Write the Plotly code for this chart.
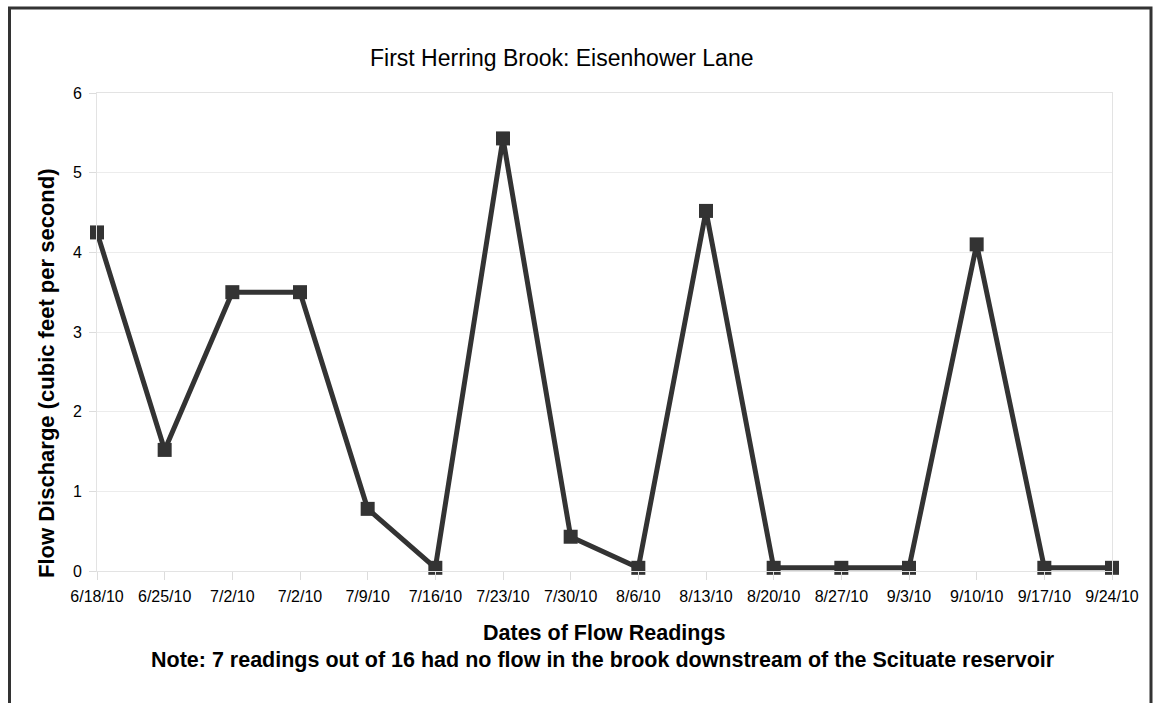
import plotly.graph_objects as go

dates = ["6/18/10", "6/25/10", "7/2/10", "7/2/10", "7/9/10", "7/16/10", "7/23/10",
         "7/30/10", "8/6/10", "8/13/10", "8/20/10", "8/27/10", "9/3/10", "9/10/10",
         "9/17/10", "9/24/10"]
flow_cfs = [4.25, 1.52, 3.50, 3.50, 0.78, 0.04, 5.43, 0.43, 0.04, 4.52, 0.04, 0.04,
            0.04, 4.10, 0.04, 0.04]
y_ticks = [0, 1, 2, 3, 4, 5, 6]

title_text = "First Herring Brook: Eisenhower Lane"
x_title = "Dates of Flow Readings"
note_text = "Note: 7 readings out of 16 had no flow in the brook downstream of the Scituate reservoir"
y_title = "Flow Discharge (cubic feet per second)"

# plot-area pixel geometry
L, R, T, B = 97, 1112, 93, 571
W, H = R - L, B - T


def px(x):
    return (x - L) / W


def py(y):
    return (B - y) / H


idx = list(range(len(dates)))

fig = go.Figure()
fig.add_trace(go.Scatter(
    x=idx, y=flow_cfs, mode="lines+markers",
    line=dict(color="#333333", width=5),
    marker=dict(symbol="square", size=14, color="#333333"),
    cliponaxis=False, showlegend=False,
))

FONT = "Liberation Sans, Arial, sans-serif"

fig.update_layout(
    width=1157, height=703,
    margin=dict(l=L, r=1157 - R, t=T, b=703 - B),
    paper_bgcolor="white", plot_bgcolor="white",
    font=dict(family=FONT, color="#000000"),
    xaxis=dict(
        range=[0, len(dates) - 1], tickmode="array", tickvals=idx, ticktext=dates,
        showgrid=False, zeroline=False,
        showline=True, linecolor="#e3e3e3", linewidth=1, mirror=True,
        ticks="outside", ticklen=8, tickcolor="#dcdcdc", ticklabelstandoff=3,
        tickfont=dict(size=16, family=FONT, color="#000000"),
    ),
    yaxis=dict(
        range=[0, 6], tickmode="array", tickvals=y_ticks,
        showgrid=True, gridcolor="#ececec", gridwidth=1, zeroline=False,
        showline=True, linecolor="#e3e3e3", linewidth=1, mirror=True,
        ticks="outside", ticklen=7, tickcolor="#dcdcdc", ticklabelstandoff=4,
        tickfont=dict(size=16, family=FONT, color="#000000"),
    ),
    shapes=[dict(
        type="rect", xref="paper", yref="paper",
        x0=px(9.5), x1=px(1151), y0=py(8), y1=py(740),
        line=dict(color="#333333", width=3), fillcolor="rgba(0,0,0,0)",
    )],
    annotations=[
        dict(text=title_text, xref="paper", yref="paper", x=px(562), y=py(58),
             xanchor="center", yanchor="middle", showarrow=False,
             font=dict(size=23, family=FONT, color="#000000")),
        dict(text="<b>" + x_title + "</b>", xref="paper", yref="paper", x=px(604), y=py(633),
             xanchor="center", yanchor="middle", showarrow=False,
             font=dict(size=21.5, family=FONT, color="#000000")),
        dict(text="<b>" + note_text + "</b>", xref="paper", yref="paper", x=px(603), y=py(660),
             xanchor="center", yanchor="middle", showarrow=False,
             font=dict(size=21.5, family=FONT, color="#000000")),
        dict(text="<b>" + y_title + "</b>", xref="paper", yref="paper", x=px(46), y=py(373),
             xanchor="center", yanchor="middle", textangle=-90, showarrow=False,
             font=dict(size=22, family=FONT, color="#000000")),
    ],
)

fig.write_html("out.html", config={"displayModeBar": False},
               post_script="document.body.style.margin='0px';")
